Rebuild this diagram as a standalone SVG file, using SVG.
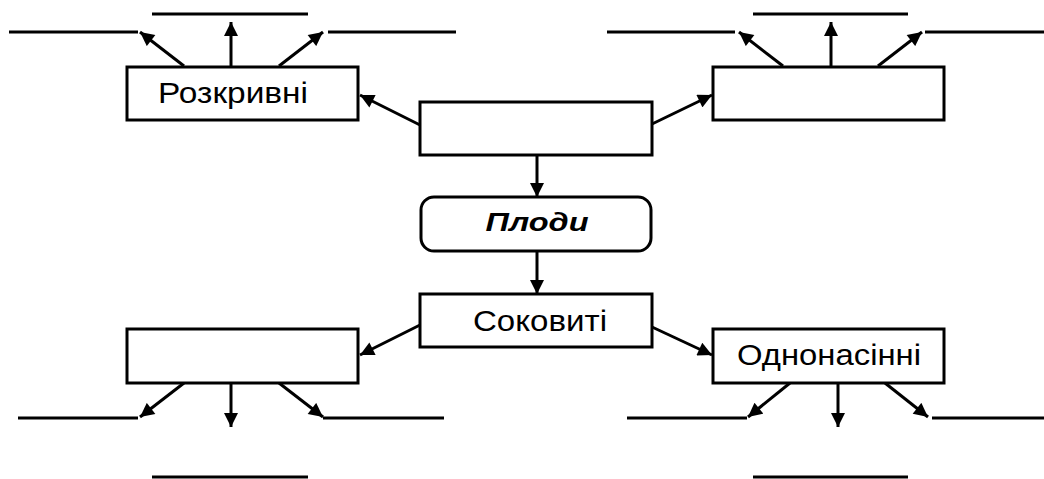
<svg xmlns="http://www.w3.org/2000/svg" width="1044" height="479" viewBox="0 0 1044 479">
  <defs>
    <marker id="arrow" viewBox="0 0 10 10" refX="10" refY="5" markerWidth="15" markerHeight="14" markerUnits="userSpaceOnUse" orient="auto">
      <path d="M0,0 L10,5 L0,10 z" fill="#000"/>
    </marker>
    <style>
      .box { fill: #fff; stroke: #000; stroke-width: 3; }
      .blank { stroke: #000; stroke-width: 3; fill: none; }
      .conn { stroke: #000; stroke-width: 3; fill: none; marker-end: url(#arrow); }
      .label { font-family: "Liberation Sans", Arial, sans-serif; font-size: 29px; fill: #000; text-anchor: middle; }
      .title { font-family: "Liberation Sans", Arial, sans-serif; font-size: 25px; font-weight: bold; font-style: italic; fill: #000; text-anchor: middle; }
    </style>
  </defs>

  <rect width="1044" height="479" fill="#fff"/>

  <!-- blank answer lines -->
  <g id="blanks">
    <line class="blank" x1="152" y1="14" x2="308" y2="14"/>
    <line class="blank" x1="9" y1="32" x2="138" y2="32"/>
    <line class="blank" x1="328" y1="32" x2="456" y2="32"/>
    <line class="blank" x1="753" y1="14" x2="908" y2="14"/>
    <line class="blank" x1="607" y1="32" x2="735" y2="32"/>
    <line class="blank" x1="925" y1="32" x2="1044" y2="32"/>
    <line class="blank" x1="18" y1="418" x2="138" y2="418"/>
    <line class="blank" x1="323" y1="418" x2="444" y2="418"/>
    <line class="blank" x1="152" y1="477" x2="308" y2="477"/>
    <line class="blank" x1="627" y1="418" x2="747" y2="418"/>
    <line class="blank" x1="932" y1="418" x2="1044" y2="418"/>
    <line class="blank" x1="753" y1="477" x2="908" y2="477"/>
  </g>

  <!-- connectors -->
  <g id="connectors">
    <line class="conn" x1="184" y1="66" x2="140" y2="32"/>
    <line class="conn" x1="231" y1="67" x2="231" y2="22"/>
    <line class="conn" x1="279" y1="66" x2="323" y2="32"/>
    <line class="conn" x1="783" y1="66" x2="739" y2="32"/>
    <line class="conn" x1="831" y1="67" x2="831" y2="22"/>
    <line class="conn" x1="878" y1="66" x2="922" y2="32"/>
    <line class="conn" x1="420" y1="125" x2="360" y2="95"/>
    <line class="conn" x1="652" y1="124" x2="712" y2="95"/>
    <line class="conn" x1="537" y1="155" x2="537" y2="197"/>
    <line class="conn" x1="537" y1="251" x2="537" y2="294"/>
    <line class="conn" x1="420" y1="325" x2="360" y2="355"/>
    <line class="conn" x1="652" y1="327" x2="712" y2="355"/>
    <line class="conn" x1="184" y1="383" x2="140" y2="417"/>
    <line class="conn" x1="231" y1="383" x2="231" y2="427"/>
    <line class="conn" x1="279" y1="383" x2="323" y2="417"/>
    <line class="conn" x1="790" y1="383" x2="748" y2="417"/>
    <line class="conn" x1="838" y1="383" x2="838" y2="427"/>
    <line class="conn" x1="885" y1="383" x2="928" y2="417"/>
  </g>

  <g id="node-rozkryvni">
    <rect class="box" x="127" y="67" width="231" height="53"/>
    <text class="label" x="233" y="103" textLength="150" lengthAdjust="spacingAndGlyphs">Розкривні</text>
  </g>

  <g id="node-top-center">
    <rect class="box" x="420" y="102" width="232" height="53"/>
  </g>

  <g id="node-top-right">
    <rect class="box" x="713" y="67" width="231" height="53"/>
  </g>

  <g id="node-plody">
    <rect class="box" x="421" y="197" width="230" height="54" rx="13" ry="13"/>
    <text class="title" x="537" y="231" textLength="103" lengthAdjust="spacingAndGlyphs">Плоди</text>
  </g>

  <g id="node-sokovyti">
    <rect class="box" x="420" y="294" width="232" height="53"/>
    <text class="label" x="540" y="331" textLength="134" lengthAdjust="spacingAndGlyphs">Соковиті</text>
  </g>

  <g id="node-bottom-left">
    <rect class="box" x="127" y="329" width="231" height="54"/>
  </g>

  <g id="node-odnonasinni">
    <rect class="box" x="713" y="329" width="231" height="54"/>
    <text class="label" x="829" y="365" textLength="184" lengthAdjust="spacingAndGlyphs">Однонасінні</text>
  </g>
</svg>
